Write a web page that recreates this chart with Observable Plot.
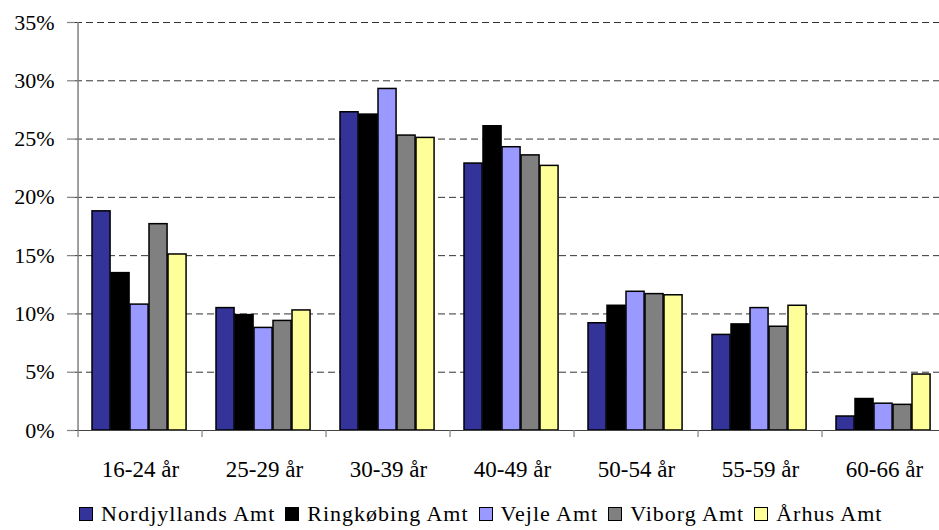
<!DOCTYPE html>
<html><head><meta charset="utf-8">
<script src="https://cdn.jsdelivr.net/npm/d3@7"></script>
<script src="https://cdn.jsdelivr.net/npm/@observablehq/plot@0.6"></script>
</head><body style="margin:0;background:#fff;font-family:'Liberation Serif'">
<div id="wrap" style="position:relative;width:939px;height:530px;overflow:hidden;background:#fff;font-family:'Liberation Serif'"></div>
<script>
const groups = ["16-24 år","25-29 år","30-39 år","40-49 år","50-54 år","55-59 år","60-66 år"];
const counties = ["Nordjyllands Amt","Ringkøbing Amt","Vejle Amt","Viborg Amt","Århus Amt"];
const colors = ["#333399","#000000","#9999FF","#808080","#FFFF99"];
const nordjyllands = [18.8,10.5,27.3,22.9,9.2,8.2,1.2];
const ringkobing   = [13.5,9.9,27.1,26.1,10.7,9.1,2.7];
const vejle        = [10.8,8.8,29.3,24.3,11.9,10.5,2.3];
const viborg       = [17.7,9.4,25.3,23.6,11.7,8.9,2.2];
const aarhus       = [15.1,10.3,25.1,22.7,11.6,10.7,4.8];
const yTicks = [0,5,10,15,20,25,30,35];

const series = [nordjyllands, ringkobing, vejle, viborg, aarhus];
const x0 = 75, x1 = 949.5;
const bw = (x1 - x0) / groups.length;
const barW = 19, outer = 14;
const FONT = "Liberation Serif";

const barMarks = series.map((vals, i) =>
  Plot.barY(groups.map((g, j) => ({group: g, value: vals[j]})), {
    x: "group", y: "value",
    fill: colors[i], stroke: "#000", strokeWidth: 1.5,
    insetLeft: outer + i * barW,
    insetRight: bw - outer - (i + 1) * barW
  })
);

const chart = Plot.plot({
  width: 939, height: 500,
  marginLeft: 75, marginTop: 22, marginBottom: 70, marginRight: 0,
  x: {type: "band", domain: groups, range: [x0, x1], padding: 0, label: null},
  y: {domain: [0, 35], label: null},
  style: {fontFamily: FONT, fontSize: "22px", color: "#000", background: "white", overflow: "hidden"},
  marks: [
    Plot.ruleY(yTicks.filter(d => d > 0), {y: d => d, stroke: "#333", strokeWidth: 1, strokeDasharray: "7,4"}),
    ...barMarks,
    Plot.ruleY([0], {stroke: "#444", strokeWidth: 1.2}),
    Plot.ruleX([groups[0]], {x: d => d, dx: -bw / 2, y1: 0, y2: 35, stroke: "#808080", strokeWidth: 1.5}),
    Plot.axisY({ticks: yTicks, tickFormat: d => d + "%", tickSize: 8, tickPadding: 13, fontSize: 22, fontFamily: FONT, stroke: "#808080", strokeWidth: 1.2, label: null}),
    Plot.axisX({tickSize: 7, tickFormat: () => "", dx: -bw / 2, stroke: "#808080", strokeWidth: 1.2, label: null}),
    Plot.axisX({tickSize: 0, tickPadding: 30, fontSize: 23, fontFamily: FONT, label: null})
  ]
});
const wrap = document.getElementById("wrap");
wrap.appendChild(chart);
const legend = document.createElement("div");
Object.assign(legend.style, {position: "absolute", left: "79px", top: "501px", display: "flex", alignItems: "center",
  fontSize: "22px", letterSpacing: "1px", whiteSpace: "nowrap", color: "#000", fontFamily: "'Liberation Serif'"});
counties.forEach((c, i) => {
  const it = document.createElement("div");
  Object.assign(it.style, {display: "flex", alignItems: "center", marginRight: "10px"});
  const sw = document.createElement("div");
  Object.assign(sw.style, {width: "12px", height: "12px", border: "1.5px solid #000", marginRight: "8px", background: colors[i]});
  const tx = document.createElement("span"); tx.textContent = c;
  it.appendChild(sw); it.appendChild(tx); legend.appendChild(it);
});
wrap.appendChild(legend);
</script></body></html>
